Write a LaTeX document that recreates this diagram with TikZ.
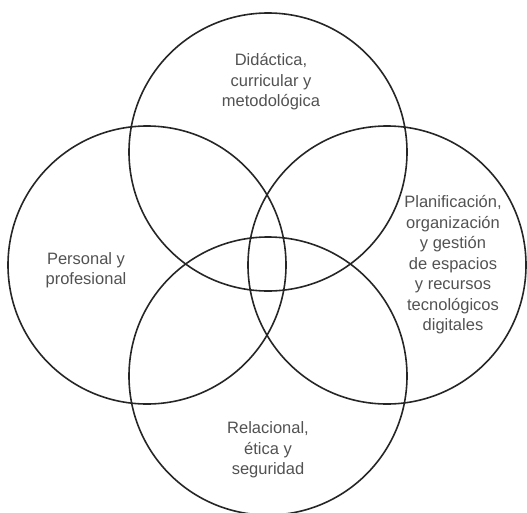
\documentclass[tikz,border=0pt]{standalone}
\usepackage{fontspec}
\setmainfont{Liberation Sans}
\begin{document}
\begin{tikzpicture}[x=1pt,y=-1pt,
  ring/.style={circle,draw=black!85,line width=1.6pt,minimum size=278pt,inner sep=0pt},
  lbl/.style={align=center,text=black!68,font=\fontsize{16.5}{20.5}\selectfont,inner sep=0pt}]
\useasboundingbox (0,0) rectangle (527,512);
\node[ring] (top) at (268,152) {};
\node[ring] (left) at (147,265) {};
\node[ring] (right) at (387,265) {};
\node[ring] (bottom) at (268,376) {};
\node[lbl] (ttop) at (271,82) {Didáctica,\\curricular y\\metodológica};
\node[lbl] (tleft) at (86,270) {Personal y\\profesional};
\node[lbl] (tright) at (453,265) {Planificación,\\organización\\y gestión\\de espacios\\y recursos\\tecnológicos\\digitales};
\node[lbl] (tbottom) at (268,450) {Relacional,\\ética y\\seguridad};
\end{tikzpicture}
\end{document}
